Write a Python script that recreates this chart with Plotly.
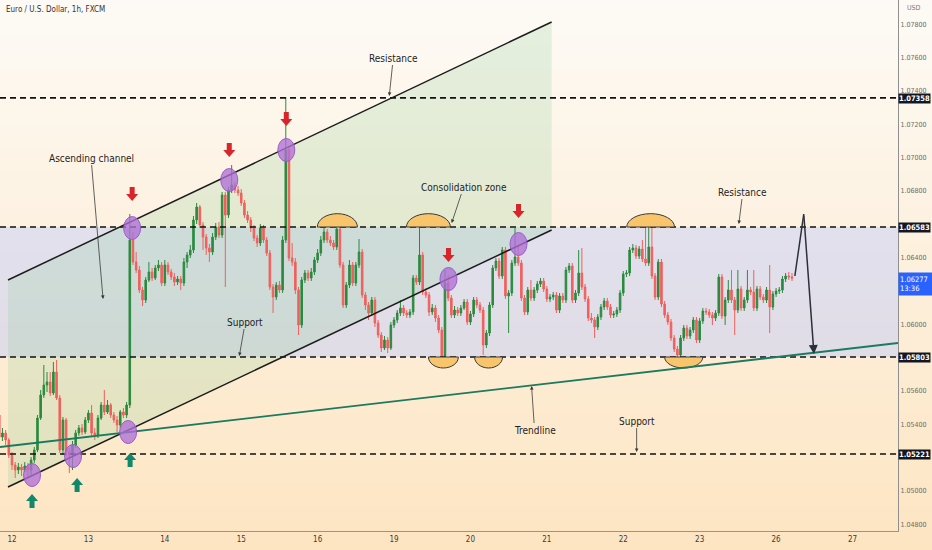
import plotly.graph_objects as go

# ---------------- DATA ----------------
bars = list(range(-4, 246))
first_open = 1.05455
close = [
    1.05323, 1.05347, 1.05305, 1.05215, 1.05155, 1.05125, 1.05143, 1.05125, 1.05149, 1.05125,
    1.05185, 1.05245, 1.05437, 1.05575, 1.05635, 1.05653, 1.05587, 1.05713, 1.05557, 1.05245,
    1.05425, 1.05233, 1.05215, 1.05275, 1.05347, 1.05377, 1.05353, 1.05425, 1.05467, 1.05347,
    1.05335, 1.05437, 1.05515, 1.05473, 1.05515, 1.05455, 1.05425, 1.05395, 1.05473, 1.05455,
    1.05515, 1.06505, 1.06373, 1.06325, 1.06205, 1.06145, 1.06265, 1.06313, 1.06277, 1.06337,
    1.06355, 1.06247, 1.06355, 1.06313, 1.06283, 1.06253, 1.06271, 1.06247, 1.06373, 1.06415,
    1.06445, 1.06625, 1.06703, 1.06595, 1.06523, 1.06457, 1.06433, 1.06523, 1.06583, 1.06535,
    1.06775, 1.06655, 1.06805, 1.06835, 1.06805, 1.06787, 1.06727, 1.06655, 1.06625, 1.06577,
    1.06517, 1.06487, 1.06577, 1.06505, 1.06427, 1.06223, 1.06163, 1.06235, 1.06205, 1.06505,
    1.07045, 1.06397, 1.06373, 1.06205, 1.05995, 1.06265, 1.06307, 1.06277, 1.06313, 1.06385,
    1.06427, 1.06505, 1.06553, 1.06505, 1.06487, 1.06463, 1.06571, 1.06355, 1.06115, 1.06235,
    1.06355, 1.06247, 1.06355, 1.06433, 1.06175, 1.06115, 1.06067, 1.06145, 1.06007, 1.05935,
    1.05857, 1.05905, 1.05857, 1.05995, 1.06025, 1.06067, 1.06097, 1.06067, 1.06055, 1.06073,
    1.06277, 1.06253, 1.06415, 1.06193, 1.06175, 1.06073, 1.06097, 1.06037, 1.05965, 1.05809,
    1.06247, 1.06157, 1.06055, 1.06085, 1.06067, 1.06097, 1.06133, 1.06013, 1.06061, 1.06145,
    1.06115, 1.06085, 1.05875, 1.05947, 1.06115, 1.06337, 1.06379, 1.06289, 1.06445, 1.06169,
    1.06187, 1.06367, 1.06403, 1.06367, 1.06157, 1.06073, 1.06205, 1.06157, 1.06205, 1.06241,
    1.06259, 1.06211, 1.06151, 1.06163, 1.06175, 1.06085, 1.06169, 1.06145, 1.06325, 1.06349,
    1.06145, 1.06187, 1.06307, 1.06223, 1.06151, 1.06037, 1.06025, 1.05983, 1.06043, 1.06103,
    1.06139, 1.06103, 1.06055, 1.06061, 1.06085, 1.06187, 1.06301, 1.06307, 1.06445, 1.06457,
    1.06409, 1.06451, 1.06391, 1.06367, 1.06463, 1.06289, 1.06163, 1.06373, 1.06121, 1.06055,
    1.06013, 1.05917, 1.05851, 1.05815, 1.05917, 1.05977, 1.05929, 1.05965, 1.06025, 1.05905,
    1.06019, 1.06079, 1.06073, 1.06055, 1.06037, 1.06067, 1.06283, 1.06049, 1.06145, 1.06205,
    1.06145, 1.06085, 1.06211, 1.06097, 1.06145, 1.06205, 1.06193, 1.06097, 1.06211, 1.06163,
    1.06145, 1.06205, 1.06103, 1.06181, 1.06199, 1.06205, 1.06271, 1.06289, 1.06283, 1.06277,
]
high = [
    1.05485, 1.05377, 1.05365, 1.05317, 1.05233, 1.05173, 1.05167, 1.05161, 1.05173, 1.05167,
    1.05203, 1.05263, 1.05455, 1.05605, 1.05755, 1.05713, 1.05713, 1.05773, 1.05785, 1.05575,
    1.05443, 1.05437, 1.05257, 1.05299, 1.05365, 1.05395, 1.05401, 1.05443, 1.05485, 1.05515,
    1.05377, 1.05455, 1.05533, 1.05605, 1.05545, 1.05527, 1.05473, 1.05449, 1.05485, 1.05497,
    1.05533, 1.06661, 1.06553, 1.06433, 1.06349, 1.06223, 1.06283, 1.06373, 1.06337, 1.06355,
    1.06385, 1.06373, 1.06385, 1.06373, 1.06331, 1.06307, 1.06289, 1.06289, 1.06397, 1.06433,
    1.06475, 1.06649, 1.06727, 1.06715, 1.06613, 1.06541, 1.06481, 1.06547, 1.06607, 1.06613,
    1.06793, 1.06793, 1.06823, 1.06955, 1.06853, 1.06829, 1.06811, 1.06745, 1.06679, 1.06643,
    1.06595, 1.06535, 1.06601, 1.06595, 1.06523, 1.06445, 1.06241, 1.06253, 1.06259, 1.06529,
    1.07363, 1.07069, 1.06487, 1.06397, 1.06223, 1.06283, 1.06325, 1.06325, 1.06337, 1.06403,
    1.06451, 1.06529, 1.06577, 1.06571, 1.06529, 1.06505, 1.06607, 1.06589, 1.06373, 1.06253,
    1.06385, 1.06373, 1.06373, 1.06511, 1.06451, 1.06193, 1.06133, 1.06163, 1.06163, 1.06025,
    1.05953, 1.05929, 1.05923, 1.06013, 1.06043, 1.06085, 1.06145, 1.06115, 1.06085, 1.06091,
    1.06295, 1.06295, 1.06589, 1.06433, 1.06217, 1.06193, 1.06121, 1.06115, 1.06055, 1.05983,
    1.06325, 1.06295, 1.06175, 1.06109, 1.06103, 1.06115, 1.06151, 1.06151, 1.06079, 1.06163,
    1.06163, 1.06133, 1.06103, 1.05965, 1.06133, 1.06355, 1.06397, 1.06397, 1.06463, 1.06463,
    1.06205, 1.06385, 1.06577, 1.06475, 1.06385, 1.06175, 1.06223, 1.06265, 1.06223, 1.06259,
    1.06277, 1.06277, 1.06229, 1.06181, 1.06193, 1.06193, 1.06187, 1.06187, 1.06343, 1.06367,
    1.06367, 1.06205, 1.06445, 1.06457, 1.06241, 1.06169, 1.06067, 1.06043, 1.06061, 1.06121,
    1.06157, 1.06157, 1.06121, 1.06079, 1.06103, 1.06205, 1.06319, 1.06325, 1.06463, 1.06481,
    1.06475, 1.06469, 1.06505, 1.06583, 1.06583, 1.06583, 1.06307, 1.06391, 1.06391, 1.06139,
    1.06073, 1.06031, 1.05935, 1.05869, 1.05935, 1.05995, 1.05995, 1.05983, 1.06043, 1.06043,
    1.06037, 1.06097, 1.06097, 1.06091, 1.06073, 1.06085, 1.06301, 1.06301, 1.06163, 1.06265,
    1.06325, 1.06163, 1.06325, 1.06229, 1.06163, 1.06325, 1.06223, 1.06325, 1.06229, 1.06229,
    1.06181, 1.06223, 1.06355, 1.06199, 1.06217, 1.06223, 1.06289, 1.06307, 1.06313, 1.06307,
]
low = [
    1.05305, 1.05299, 1.05275, 1.05197, 1.05125, 1.05077, 1.05101, 1.05089, 1.05113, 1.05077,
    1.05089, 1.05167, 1.05233, 1.05425, 1.05557, 1.05593, 1.05569, 1.05575, 1.05545, 1.05227,
    1.05215, 1.05209, 1.05107, 1.05125, 1.05257, 1.05329, 1.05335, 1.05341, 1.05407, 1.05329,
    1.05305, 1.05317, 1.05425, 1.05455, 1.05461, 1.05437, 1.05407, 1.05353, 1.05377, 1.05437,
    1.05437, 1.05497, 1.06355, 1.06307, 1.06187, 1.06109, 1.06127, 1.06253, 1.06259, 1.06265,
    1.06319, 1.06229, 1.06229, 1.06295, 1.06265, 1.06229, 1.06235, 1.06205, 1.06229, 1.06337,
    1.06397, 1.06427, 1.06601, 1.06577, 1.06445, 1.06415, 1.06373, 1.06415, 1.06505, 1.06517,
    1.06517, 1.06223, 1.06637, 1.06787, 1.06787, 1.06769, 1.06709, 1.06637, 1.06607, 1.06553,
    1.06499, 1.06463, 1.06469, 1.06487, 1.06409, 1.06205, 1.06067, 1.06145, 1.06187, 1.06187,
    1.06487, 1.06379, 1.06349, 1.06181, 1.05935, 1.05977, 1.06247, 1.06259, 1.06259, 1.06295,
    1.06367, 1.06409, 1.06487, 1.06487, 1.06469, 1.06445, 1.06445, 1.06337, 1.06097, 1.06097,
    1.06217, 1.06229, 1.06229, 1.06337, 1.06157, 1.06085, 1.06025, 1.06049, 1.05983, 1.05917,
    1.05833, 1.05845, 1.05827, 1.05845, 1.05977, 1.06007, 1.06049, 1.06049, 1.06037, 1.06037,
    1.06055, 1.06235, 1.06235, 1.06175, 1.06157, 1.06049, 1.06055, 1.06013, 1.05947, 1.05797,
    1.05797, 1.06139, 1.06037, 1.06037, 1.06049, 1.06049, 1.06085, 1.05995, 1.05995, 1.06043,
    1.06097, 1.06067, 1.05815, 1.05857, 1.05929, 1.06097, 1.06319, 1.06271, 1.06271, 1.06151,
    1.05947, 1.06169, 1.06349, 1.06349, 1.06139, 1.06055, 1.06055, 1.06139, 1.06139, 1.06187,
    1.06223, 1.06193, 1.06133, 1.06133, 1.06145, 1.06067, 1.06067, 1.06127, 1.06127, 1.06307,
    1.06127, 1.06127, 1.06169, 1.06205, 1.06133, 1.06019, 1.06007, 1.05917, 1.05965, 1.06025,
    1.06085, 1.06085, 1.06037, 1.06037, 1.06043, 1.06067, 1.06169, 1.06283, 1.06289, 1.06427,
    1.06391, 1.06391, 1.06373, 1.06349, 1.06349, 1.06271, 1.06145, 1.06145, 1.06103, 1.06037,
    1.05995, 1.05899, 1.05833, 1.05773, 1.05785, 1.05899, 1.05911, 1.05911, 1.05947, 1.05887,
    1.05887, 1.06001, 1.06055, 1.06037, 1.05995, 1.06019, 1.06049, 1.06031, 1.05995, 1.06127,
    1.06127, 1.05935, 1.06067, 1.06079, 1.06079, 1.06127, 1.06175, 1.06079, 1.06079, 1.06145,
    1.06127, 1.06127, 1.05947, 1.06085, 1.06163, 1.06181, 1.06187, 1.06253, 1.06265, 1.06259,
]
open_ = [first_open] + close[:-1]

day_ticks = [0, 24, 48, 72, 96, 120, 144, 168, 192, 216, 240, 264]
day_labels = ["12", "13", "14", "15", "16", "19", "20", "21", "22", "23", "26", "27"]
# axis ticks that are not hidden behind the price boxes
price_ticks = [1.048, 1.050, 1.054, 1.056, 1.060, 1.064,
               1.068, 1.070, 1.072, 1.074, 1.076, 1.078]
level_values = [1.07358, 1.06583, 1.05803, 1.05221]
last_price = 1.06277
last_time = "13:36"

# key drawing points (bar index, price)
channel_upper = [(-1.26, 1.06265), (169.5, 1.07813)]
channel_lower = [(-1.26, 1.05023), (169.5, 1.06565)]
trend_line = [(-3.77, 1.05263), (278.3, 1.05887)]
touch_points = [(6.29, 1.05095), (19.18, 1.05209), (36.48, 1.05353), (37.74, 1.06577),
                (68.24, 1.06865), (86.16, 1.07045), (137.1, 1.06271), (159.1, 1.06481)]
down_arrows = [(37.74, 1.06739), (68.24, 1.07003), (86.16, 1.07189), (137.1, 1.06373), (159.1, 1.06637)]
up_arrows = [(6.29, 1.04981), (20.44, 1.05077), (37.1, 1.05227)]
top_arcs = [(102.2, 6.3), (130.8, 6.9), (200.6, 7.5)]      # (center bar, half width in bars)
bottom_arcs = [(135.5, 4.7), (149.7, 4.4), (211.0, 6.0)]
projection = [(245.9, 1.06289), (248.7, 1.06661), (251.9, 1.05821)]

GREEN = "#2b8a3e"
RED = "#f0605d"
FONT = "Liberation Sans Narrow, DejaVu Sans Condensed, Arial Narrow, sans-serif"
XR = [-3.77, 278.3]
YR = [1.04759, 1.07945]

fig = go.Figure()
fig.add_trace(go.Candlestick(
    x=bars, open=open_, high=high, low=low, close=close,
    increasing=dict(line=dict(color=GREEN, width=1), fillcolor=GREEN),
    decreasing=dict(line=dict(color=RED, width=1), fillcolor=RED),
    whiskerwidth=0, showlegend=False, hoverinfo="skip"))

shapes = []
# background gradient
N = 48
top_c = (253, 250, 245)
bot_c = (253, 229, 194)
y_lo, y_hi = -0.04, 1.0
for k in range(N):
    t = k / (N - 1)
    c = tuple(round(bot_c[j] + (top_c[j] - bot_c[j]) * t) for j in range(3))
    shapes.append(dict(type="rect", xref="paper", yref="paper", x0=0, x1=1.05,
                       y0=y_lo + (y_hi - y_lo) * k / N, y1=y_lo + (y_hi - y_lo) * (k + 1) / N + 0.002,
                       fillcolor="rgb(%d,%d,%d)" % c, line=dict(width=0), layer="below"))
# consolidation zone
shapes.append(dict(type="rect", xref="paper", yref="y", x0=0, x1=1, y0=level_values[2], y1=level_values[1],
                   fillcolor="rgba(186,200,255,0.42)", line=dict(width=0), layer="below"))
# channel fill
(ux0, uy0), (ux1, uy1) = channel_upper
(lx0, ly0), (lx1, ly1) = channel_lower
shapes.append(dict(type="path", xref="x", yref="y",
                   path="M %f,%f L %f,%f L %f,%f L %f,%f Z" % (ux0, uy0, ux1, uy1, lx1, ly1, lx0, ly0),
                   fillcolor="rgba(140,205,150,0.22)", line=dict(width=0), layer="below"))
# dashed levels
for v in level_values:
    shapes.append(dict(type="line", xref="paper", yref="y", x0=0, x1=1, y0=v, y1=v,
                       line=dict(color="#111111", width=1.6, dash="6px,4px"), layer="above"))
# arcs
k = 0.5523
def half_ellipse(cx, a, cy, b):
    return ("M %f,%f C %f,%f %f,%f %f,%f C %f,%f %f,%f %f,%f Z" %
            (cx - a, cy, cx - a, cy + k * b, cx - k * a, cy + b, cx, cy + b,
             cx + k * a, cy + b, cx + a, cy + k * b, cx + a, cy))
for cx, a in top_arcs:
    shapes.append(dict(type="path", xref="x", yref="y", path=half_ellipse(cx, a, level_values[1], 0.00080),
                       fillcolor="#f8c46c", line=dict(color="#3a3a3a", width=1), layer="above"))
for cx, a in bottom_arcs:
    shapes.append(dict(type="path", xref="x", yref="y", path=half_ellipse(cx, a, level_values[2], -0.00066),
                       fillcolor="#f8c46c", line=dict(color="#3a3a3a", width=1), layer="above"))
# channel lines & trendline
for seg in (channel_upper, channel_lower):
    shapes.append(dict(type="line", xref="x", yref="y", x0=seg[0][0], y0=seg[0][1], x1=seg[1][0], y1=seg[1][1],
                       line=dict(color="#1c1c1c", width=1.5), layer="above"))
shapes.append(dict(type="line", xref="x", yref="y", x0=trend_line[0][0], y0=trend_line[0][1],
                   x1=trend_line[1][0], y1=trend_line[1][1], line=dict(color="#1b7a60", width=1.8), layer="above"))
# touch circles
for (bx, py) in touch_points:
    shapes.append(dict(type="circle", xref="x", yref="y", xsizemode="pixel", ysizemode="pixel",
                       xanchor=bx, yanchor=py, x0=-8.5, x1=8.5, y0=-11.5, y1=11.5,
                       fillcolor="rgba(176,112,214,0.78)", line=dict(color="rgba(150,85,200,0.9)", width=1),
                       layer="above"))
# block arrows
for (bx, py) in down_arrows:
    shapes.append(dict(type="path", xref="x", yref="y", xsizemode="pixel", ysizemode="pixel",
                       xanchor=bx, yanchor=py,
                       path="M -2.5,14 L 2.5,14 L 2.5,7 L 6,7 L 0,0 L -6,7 L -2.5,7 Z",
                       fillcolor="#d8252b", line=dict(width=0), layer="above"))
for (bx, py) in up_arrows:
    shapes.append(dict(type="path", xref="x", yref="y", xsizemode="pixel", ysizemode="pixel",
                       xanchor=bx, yanchor=py,
                       path="M -2.5,-14 L 2.5,-14 L 2.5,-7 L 6,-7 L 0,0 L -6,-7 L -2.5,-7 Z",
                       fillcolor="#11876b", line=dict(width=0), layer="above"))
# projection first leg
shapes.append(dict(type="line", xref="x", yref="y", x0=projection[0][0], y0=projection[0][1],
                   x1=projection[1][0], y1=projection[1][1], line=dict(color="#2b303b", width=1.5), layer="above"))

annotations = []
# projection second leg
annotations.append(dict(x=projection[2][0], y=projection[2][1], ax=projection[1][0], ay=projection[1][1],
                        axref="x", ayref="y", xref="x", yref="y", text="", showarrow=True,
                        arrowhead=2, arrowsize=1.2, arrowwidth=1.5, arrowcolor="#2b303b"))
labels = [
    ("Resistance", 118.5, 1.07369, 4, -38),
    ("Ascending channel", 28.6, 1.06151, -12, -141),
    ("Consolidation zone", 138.1, 1.06607, 12, -36),
    ("Resistance", 228.3, 1.06601, 4, -32),
    ("Support", 71.4, 1.05809, 6, -34),
    ("Trendline", 163.2, 1.05629, 3, 44),
    ("Support", 196.2, 1.05233, 0, -31),
]
for txt, bx, py, ax, ay in labels:
    annotations.append(dict(x=bx, y=py, xref="x", yref="y", text=txt, showarrow=True, ax=ax, ay=ay,
                            arrowhead=2, arrowsize=0.9, arrowwidth=0.8, arrowcolor="#3a3a3a", standoff=0,
                            font=dict(family=FONT, size=10, color="#1e1e1e")))
# title
annotations.append(dict(x=0.004, y=0.995, xref="paper", yref="paper", xanchor="left", yanchor="top",
                        text="Euro / U.S. Dollar, 1h, FXCM", showarrow=False,
                        font=dict(family=FONT, size=8, color="#333333")))
annotations.append(dict(x=1.008, y=0.997, xref="paper", yref="paper", xanchor="left", yanchor="top",
                        text="USD", showarrow=False, font=dict(family=FONT, size=7, color="#777777")))
# price boxes
for v in level_values:
    annotations.append(dict(x=1.0, y=v, xref="paper", yref="y", xanchor="left", yanchor="middle",
                            yshift=(-1 if v == level_values[0] else 0),
                            text="<b>%.5f</b>" % v, showarrow=False, bgcolor="#131722", width=31, height=9,
                            borderpad=0, font=dict(family=FONT, size=7.5, color="white")))
annotations.append(dict(x=1.0, y=last_price, xref="paper", yref="y", xanchor="left", yanchor="top",
                        yshift=6, text="%.5f<br>%s" % (last_price, last_time), showarrow=False,
                        bgcolor="#2962ff", width=31, height=20, borderpad=1, align="left",
                        font=dict(family=FONT, size=7.5, color="white")))

fig.update_layout(
    width=932, height=550, margin=dict(l=0, r=34, t=0, b=19),
    paper_bgcolor="rgb(253,240,220)", plot_bgcolor="rgba(0,0,0,0)",
    shapes=shapes, annotations=annotations, showlegend=False, hovermode=False,
    xaxis=dict(range=XR, rangeslider=dict(visible=False), showgrid=False, zeroline=False,
               tickmode="array", tickvals=day_ticks, ticktext=day_labels, ticks="",
               showline=True, linecolor="#9a958c", linewidth=1, mirror=False,
               tickfont=dict(family=FONT, size=8, color="#3c3c3c")),
    yaxis=dict(range=YR, side="right", showgrid=False, zeroline=False, tickmode="array",
               tickvals=price_ticks, ticktext=["%.5f" % v for v in price_ticks], ticks="",
               showline=True, linecolor="#8f8f8f", linewidth=1,
               tickfont=dict(family=FONT, size=7, color="#6b6b6b")),
)
fig.write_html("out.html", config={"displayModeBar": False, "staticPlot": True},
               post_script="document.body.style.margin='0px';document.body.style.overflow='hidden';")
